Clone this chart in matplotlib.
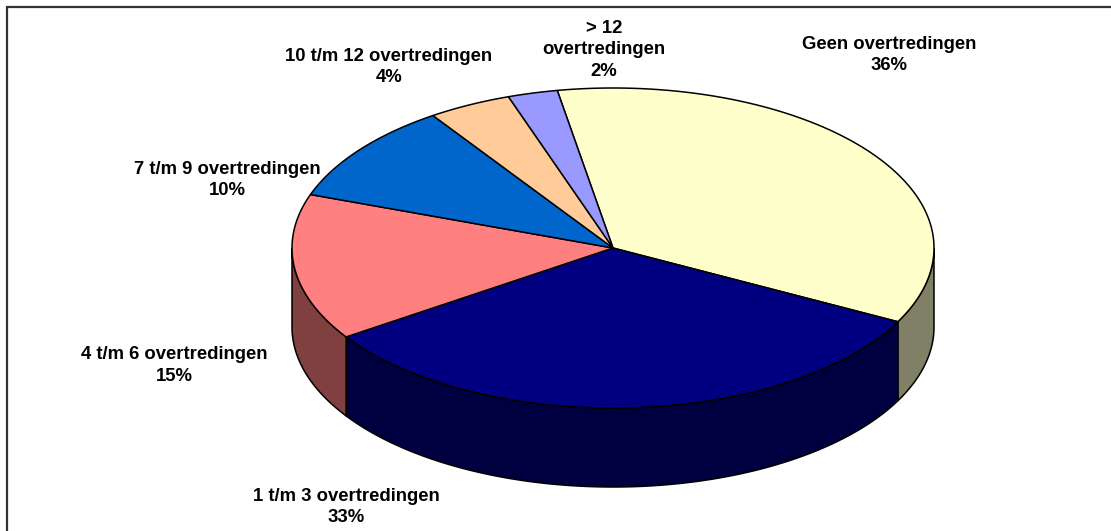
import numpy as np
import matplotlib
matplotlib.use("Agg")
import matplotlib.pyplot as plt
from matplotlib.patches import Polygon

categories = ["Geen overtredingen", "1 t/m 3 overtredingen", "4 t/m 6 overtredingen",
              "7 t/m 9 overtredingen", "10 t/m 12 overtredingen", "> 12\novertredingen"]
values = [35.4, 33.0, 14.8, 10.1, 4.2, 2.5]
percent_labels = ["36%", "33%", "15%", "10%", "4%", "2%"]
top_colors = ["#FFFFCC", "#000080", "#FF8080", "#0066CC", "#FFCC99", "#9999FF"]
side_colors = ["#808066", "#000040", "#804040", "#003366", "#806650", "#505080"]
label_xy = [(889, 55), (346, 507), (174.5, 365.5), (227, 180), (389, 67), (604, 50)]

START = 100.0
CX, CY, A, B, DEPTH = 613.0, 248.0, 321.0, 160.0, 79.0

fig = plt.figure(figsize=(11.11, 5.31), dpi=100)
ax = fig.add_axes([0, 0, 1, 1])
ax.set_xlim(0, 1111)
ax.set_ylim(531, 0)
ax.axis("off")

ax.plot([7, 7, 1111], [531, 6.5, 6.5], color="#333333", lw=1.6, solid_joinstyle="miter")


def rim(a0, a1, dy=0.0):
    t = np.radians(np.linspace(a0, a1, max(2, int(abs(a1 - a0) * 2) + 2)))
    return np.column_stack([CX + A * np.cos(t), CY + dy - B * np.sin(t)])


edges = START - np.concatenate([[0], np.cumsum(values)]) * 360.0 / sum(values)

# sides: only the front half of the cylinder is visible (angles -180..0)
for i in range(len(values)):
    a0, a1 = edges[i], edges[i + 1]
    for shift in (0, -360):
        lo = max(a1 + shift, -180)
        hi = min(a0 + shift, 0)
        if hi > lo:
            top = rim(hi, lo)
            bot = rim(lo, hi, DEPTH)
            ax.add_patch(Polygon(np.vstack([top, bot]), closed=True, fc=side_colors[i],
                                 ec="black", lw=1.1, zorder=2))

# top faces
for i in range(len(values)):
    pts = np.vstack([[[CX, CY]], rim(edges[i], edges[i + 1])])
    ax.add_patch(Polygon(pts, closed=True, fc=top_colors[i], ec="black", lw=1.1,
                         joinstyle="round", zorder=3))

for cat, pct, (x, y) in zip(categories, percent_labels, label_xy):
    ax.text(x, y, f"{cat}\n{pct}", ha="center", va="center", family="Liberation Sans",
            fontweight="bold", fontsize=13.3, linespacing=1.36, color="black", zorder=5)

fig.savefig("out.png", dpi=100)
